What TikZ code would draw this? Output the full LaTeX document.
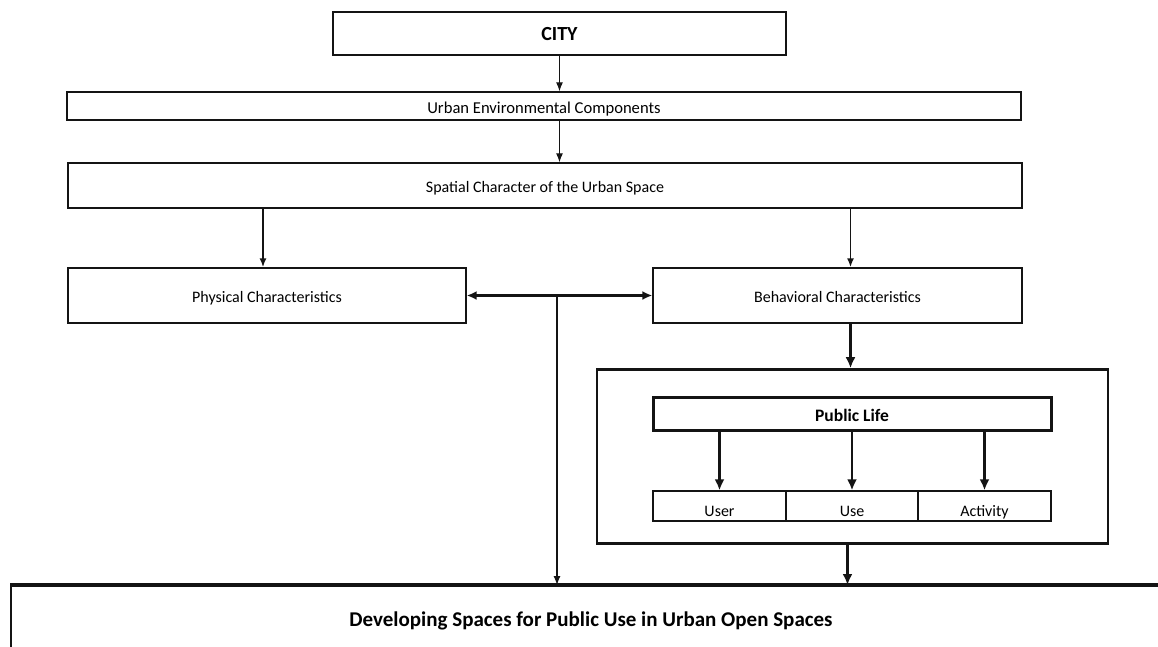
\documentclass[tikz,border=0pt]{standalone}
\usepackage{fontspec}
\setmainfont{Carlito}
\usetikzlibrary{arrows.meta,calc}
\definecolor{LineClr}{RGB}{20,20,20}

\begin{document}
\begin{tikzpicture}[x=1pt,y=-1pt,
  box/.style={draw=LineClr,line width=1.3pt,inner sep=0pt,text height=17pt,text depth=3pt,font=\fontsize{16}{18}\selectfont},
  frame/.style={box,line width=2.6pt},
  cell/.style={box,minimum height=30pt,text height=24pt,text depth=3pt},
  arr/.style={-{Latex[length=9pt,width=7pt]},line width=1.2pt,color=LineClr},
  heavyarr/.style={arr,-{Latex[length=11pt,width=10pt]},line width=2.6pt}]
\useasboundingbox (0,0) rectangle (1158,646);

\node[box,minimum width=453pt,minimum height=43pt,font=\fontsize{20}{22}\selectfont\bfseries] (city) at (559.5,33.5) {CITY};
\node[box,minimum width=954pt,minimum height=28pt,font=\fontsize{16.6}{18}\selectfont] (uec) at (544,106) {Urban Environmental Components};
\node[box,minimum width=954pt,minimum height=45pt] (spatial) at (545,185.5) {Spatial Character of the Urban Space};

\node[box,minimum width=398pt,minimum height=55pt] (phys) at (267,295.5) {Physical Characteristics};
\node[box,minimum width=369pt,minimum height=55pt] (behav) at (837.5,295.5) {Behavioral Characteristics};

\node[frame,minimum width=511pt,minimum height=174pt] (pframe) at (852.5,456.5) {};
\node[frame,line width=3pt,minimum width=398pt,minimum height=33pt,font=\fontsize{17.5}{20}\selectfont\bfseries] (plife) at (852,414) {Public Life};
\node[cell,minimum width=133pt] (user) at (719.5,506) {User};
\node[cell,minimum width=132pt] (use) at (852,506) {Use};
\node[cell,minimum width=133pt] (act) at (984.5,506) {Activity};

\node[box,line width=2pt,anchor=north west,minimum width=1160pt,minimum height=66pt,font=\fontsize{21}{24}\selectfont\bfseries] (dev) at (10,585) {Developing Spaces for Public Use in Urban Open Spaces};
\draw[line width=4pt,color=LineClr] (dev.north west) -- (dev.north east);

\draw[arr] (city.south) -- (city.south |- uec.north);
\draw[arr] (city.south |- uec.south) -- (city.south |- spatial.north);
\draw[arr,line width=1.8pt] ([xshift=-4pt]phys.north |- spatial.south) -- ([xshift=-4pt]phys.north);
\draw[arr,line width=1.8pt] ([xshift=13pt]behav.north |- spatial.south) -- ([xshift=13pt]behav.north);

\draw[heavyarr,{Latex[length=10pt,width=9pt]}-{Latex[length=10pt,width=9pt]}] (phys.east) -- (behav.west);
\coordinate (mid) at (557,295.5);
\draw[arr] (mid) -- (mid |- dev.north);

\draw[heavyarr] ([xshift=-2pt]pframe.north |- behav.south) -- ([xshift=-2pt]pframe.north);
\draw[heavyarr] (plife.south -| user.north) -- (user.north);
\draw[heavyarr] (plife.south -| use.north) -- (use.north);
\draw[heavyarr] (plife.south -| act.north) -- (act.north);
\draw[heavyarr,line width=3.4pt] ([xshift=-5pt]pframe.south) -- ([xshift=-5pt]pframe.south |- dev.north);
\end{tikzpicture}
\end{document}
